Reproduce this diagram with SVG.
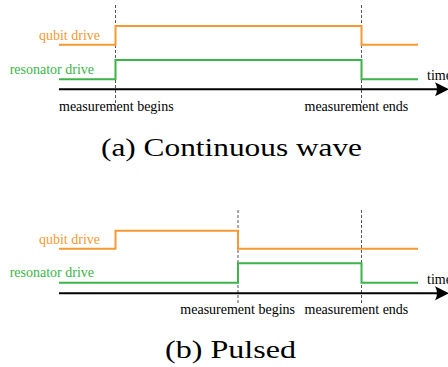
<svg xmlns="http://www.w3.org/2000/svg" width="448" height="367" viewBox="0 0 448 367">
<style>
.q{fill:none;stroke:#f59a32;stroke-width:2}
.r{fill:none;stroke:#3cb44a;stroke-width:2}
.ax{fill:none;stroke:#000;stroke-width:2}
.d{fill:none;stroke:#555;stroke-width:1;stroke-dasharray:3 2}
.t{font-size:14px}
.tq{fill:#f59a32}
.tr{fill:#3cb44a}
.cap{font-size:25px;fill:#000}
</style>
<defs>
<path id="ah" d="M0,0 L-14,-7 Q-10,0 -14,7 Z" fill="#000"/>
</defs>
<g id="connectors">
<line class="d" x1="115.5" y1="5" x2="115.5" y2="103"/>
<line class="d" x1="361.5" y1="5" x2="361.5" y2="103"/>
<line class="d" x1="238" y1="210" x2="238" y2="303"/>
<line class="d" x1="361.5" y1="210" x2="361.5" y2="303"/>
</g>
<g id="panel-a" font-family="Liberation Serif">
<g id="qubit-a"><polyline class="q" points="59,44.7 115.5,44.7 115.5,26 361.5,26 361.5,44.7 418,44.7"/>
<text class="t tq" x="100" y="40" text-anchor="end" font-family="Liberation Serif">qubit drive</text></g>
<g id="resonator-a"><polyline class="r" points="59,79.3 115.5,79.3 115.5,60 361.5,60 361.5,79.3 418,79.3"/>
<text class="t tr" x="94" y="74" text-anchor="end" font-family="Liberation Serif">resonator drive</text></g>
<g id="axis-a"><line class="ax" x1="59" y1="89.3" x2="440" y2="89.3"/>
<use href="#ah" x="449" y="89.3"/>
<text class="t" x="427" y="80" font-family="Liberation Serif">time</text></g>
<text class="t" x="59" y="111" font-family="Liberation Serif">measurement begins</text>
<text class="t" x="304.5" y="111" font-family="Liberation Serif">measurement ends</text>
<text class="cap" x="101" y="156" textLength="261" lengthAdjust="spacingAndGlyphs" font-family="Liberation Serif">(a) Continuous wave</text>
</g>
<g id="panel-b" font-family="Liberation Serif">
<g id="qubit-b"><polyline class="q" points="59,248.7 115.5,248.7 115.5,230.7 238,230.7 238,248.7 418,248.7"/>
<text class="t tq" x="100" y="243.5" text-anchor="end" font-family="Liberation Serif">qubit drive</text></g>
<g id="resonator-b"><polyline class="r" points="59,282.7 238,282.7 238,263.3 361.5,263.3 361.5,282.7 418,282.7"/>
<text class="t tr" x="94" y="277" text-anchor="end" font-family="Liberation Serif">resonator drive</text></g>
<g id="axis-b"><line class="ax" x1="59" y1="293.3" x2="440" y2="293.3"/>
<use href="#ah" x="449" y="293.3"/>
<text class="t" x="427" y="284" font-family="Liberation Serif">time</text></g>
<text class="t" x="295" y="313.5" text-anchor="end" font-family="Liberation Serif">measurement begins</text>
<text class="t" x="304.5" y="313.5" font-family="Liberation Serif">measurement ends</text>
<text class="cap" x="165" y="358" textLength="131" lengthAdjust="spacingAndGlyphs" font-family="Liberation Serif">(b) Pulsed</text>
</g>
</svg>
